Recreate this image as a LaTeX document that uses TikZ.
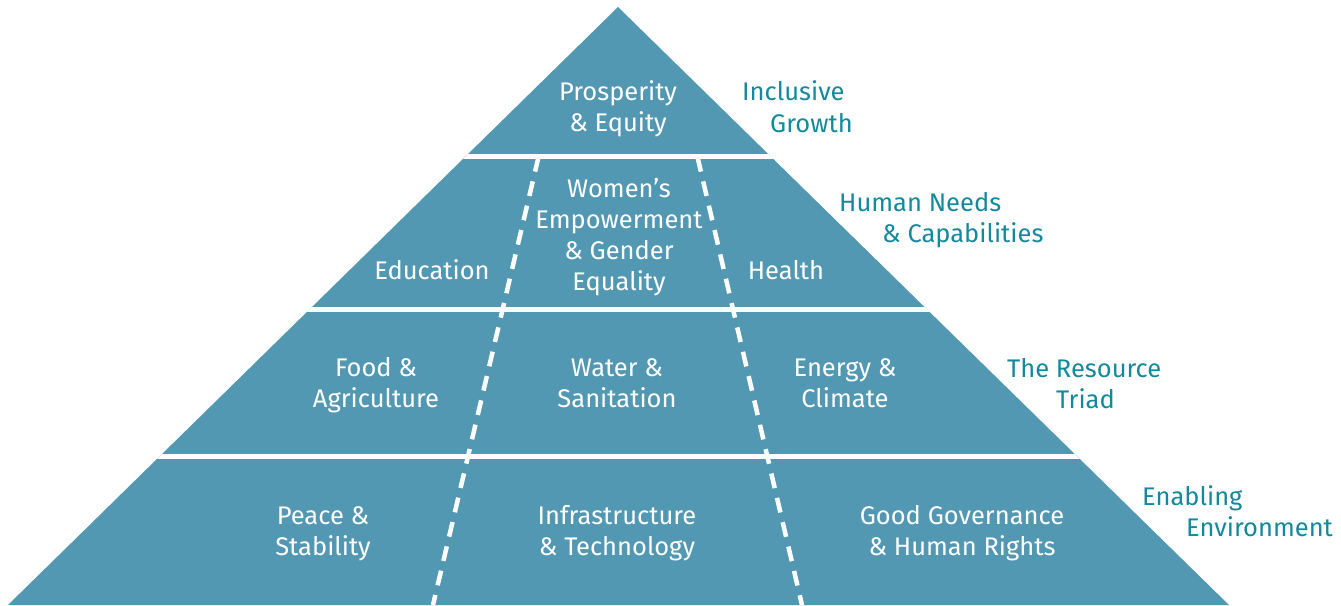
\documentclass[tikz,border=0pt]{standalone}
\usepackage{fontspec}
\setmainfont{Fira Sans}
\definecolor{pyr}{RGB}{83,152,178}
\definecolor{lab}{RGB}{20,136,156}
\begin{document}
\begin{tikzpicture}[x=1pt,y=-1pt,
  inlab/.style={text=white,font=\fontsize{25.5}{31}\selectfont,align=center,anchor=base,inner sep=0pt},
  outlab/.style={text=lab,font=\fontsize{25.5}{31}\selectfont,anchor=base west,inner sep=0pt},
  band/.style={draw=white,line width=5pt},
  divider/.style={draw=white,line width=4.5pt,dash pattern=on 15pt off 10pt}]
\useasboundingbox (0,0) rectangle (1341,605);
\coordinate (apex) at (618,7);
\coordinate (bl) at (8,605);
\coordinate (br) at (1229,605);
\fill[pyr] (apex) -- (bl) -- (br) -- cycle;
\coordinate (b1l) at (400,156.5); \coordinate (b1r) at (900,156.5);
\coordinate (b2l) at (250,309.5); \coordinate (b2r) at (1000,309.5);
\coordinate (b3l) at (100,456); \coordinate (b3r) at (1150,456);
\coordinate (d1t) at (538.5,157); \coordinate (d1b) at (433,605);
\coordinate (d2t) at (697.5,157); \coordinate (d2b) at (802,605);
\begin{scope}
\clip (apex) -- (bl) -- (br) -- cycle;
\draw[divider] (d1t) -- (d1b);
\draw[divider] (d2t) -- (d2b);
\draw[band] (b1l) -- (b1r);
\draw[band] (b2l) -- (b2r);
\draw[band] (b3l) -- (b3r);
\end{scope}
% anchor=base of a multi-line node is the baseline of its last line
\node[inlab] (prosp) at (618,131.5) {Prosperity\\\& Equity};
\node[inlab] (women) at (619,290.7) {Women’s\\Empowerment\\\& Gender\\Equality};
\node[inlab] (edu) at (432,279) {Education};
\node[inlab] (health) at (786,279) {Health};
\node[inlab] (food) at (376,407.7) {Food \&\\Agriculture};
\node[inlab] (water) at (617,407.7) {Water \&\\Sanitation};
\node[inlab] (energy) at (845,407.7) {Energy \&\\Climate};
\node[inlab] (peace) at (323,555) {Peace \&\\Stability};
\node[inlab] (infra) at (617,555) {Infrastructure\\\& Technology};
\node[inlab] (gov) at (962,555) {Good Governance\\\& Human Rights};
\node[outlab] (incl) at (742,100) {Inclusive};
\node[outlab] (grow) at (770,132) {Growth};
\node[outlab] (human) at (839,211) {Human Needs};
\node[outlab] (capab) at (882,242) {\& Capabilities};
\node[outlab] (res) at (1007,377) {The Resource};
\node[outlab] (triad) at (1056,408) {Triad};
\node[outlab] (enab) at (1142,505) {Enabling};
\node[outlab] (env) at (1186,536) {Environment};
\end{tikzpicture}
\end{document}
